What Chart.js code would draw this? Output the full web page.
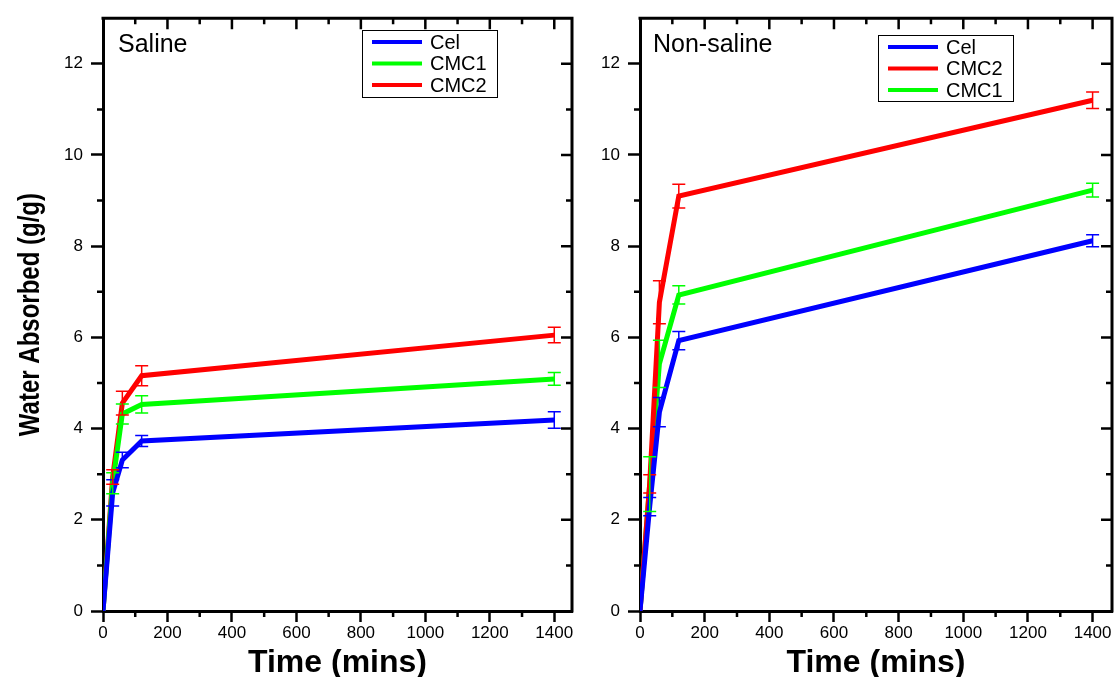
<!DOCTYPE html>
<html>
<head>
<meta charset="utf-8">
<script src="https://cdn.jsdelivr.net/npm/chart.js@4.4.0/dist/chart.umd.min.js"></script>
<style>
  html, body { margin: 0; padding: 0; background: #fff; }
  #wrap { position: relative; width: 1120px; height: 677px; overflow: hidden; }
  .panel { position: absolute; top: 0; }
</style>
</head>
<body>
<div id="wrap">
  <canvas id="saline" class="panel" style="left:0" width="580" height="677"></canvas>
  <canvas id="nonsaline" class="panel" style="left:580px" width="540" height="677"></canvas>
</div>
<script>
// sampling times (mins) and axis ticks
const TIMES = [0, 30, 60, 120, 1400];
const X_TICKS = [0, 200, 400, 600, 800, 1000, 1200, 1400];
const Y_TICKS = [0, 2, 4, 6, 8, 10, 12];

// Saline
const SAL_CEL = [0, 2.59, 3.31, 3.73, 4.19];
const SAL_CEL_ERR = [0, 0.29, 0.17, 0.12, 0.18];
const SAL_CMC1 = [0, 2.80, 4.32, 4.53, 5.09];
const SAL_CMC1_ERR = [0, 0.23, 0.22, 0.19, 0.14];
const SAL_CMC2 = [0, 2.94, 4.56, 5.16, 6.05];
const SAL_CMC2_ERR = [0, 0.16, 0.26, 0.22, 0.17];

// Non-saline
const NS_CEL = [0, 2.29, 4.36, 5.93, 8.12];
const NS_CEL_ERR = [0, 0.20, 0.32, 0.20, 0.13];
const NS_CMC2 = [0, 2.79, 6.77, 9.10, 11.20];
const NS_CMC2_ERR = [0, 0.20, 0.47, 0.26, 0.18];
const NS_CMC1 = [0, 2.78, 5.42, 6.93, 9.23];
const NS_CMC1_ERR = [0, 0.60, 0.52, 0.20, 0.15];

const BLUE = "#0000ff", GREEN = "#00ff00", RED = "#ff0000";
const FONT = "'Liberation Sans', Arial, sans-serif";

// error bars, mirrored frame, minor ticks, boxed legend, labels
const decor = {
  id: "decor",
  afterDatasetsDraw(chart) {
    const { ctx, scales: { x, y } } = chart;
    ctx.save();
    ctx.lineWidth = 1.5;
    chart.data.datasets.forEach((ds) => {
      ctx.strokeStyle = ds.borderColor;
      ds.data.forEach((p, i) => {
        const e = ds.err[i];
        if (!e) return;
        const px = x.getPixelForValue(p.x);
        const top = y.getPixelForValue(p.y + e), bot = y.getPixelForValue(p.y - e);
        ctx.beginPath();
        ctx.moveTo(px, top); ctx.lineTo(px, bot);
        ctx.moveTo(px - 6.5, top); ctx.lineTo(px + 6.5, top);
        ctx.moveTo(px - 6.5, bot); ctx.lineTo(px + 6.5, bot);
        ctx.stroke();
      });
    });
    ctx.restore();
  },
  afterDraw(chart, args, o) {
    const { ctx, chartArea: a, scales: { x, y } } = chart;
    ctx.save();
    ctx.strokeStyle = "#000";
    // top + right frame
    ctx.lineWidth = 3;
    ctx.beginPath();
    ctx.moveTo(a.left - 1.5, a.top); ctx.lineTo(a.right, a.top); ctx.lineTo(a.right, a.bottom + 1.5);
    ctx.stroke();
    ctx.lineWidth = 2.5;
    ctx.beginPath();
    for (let v = 100; v < x.max; v += 100) {
      const px = x.getPixelForValue(v);
      const major = v % 200 === 0;
      const len = major ? 11 : 6;
      ctx.moveTo(px, a.top); ctx.lineTo(px, a.top + len);
      if (!major) { ctx.moveTo(px, a.bottom); ctx.lineTo(px, a.bottom + len); }
    }
    for (let v = 1; v < y.max; v += 1) {
      const py = y.getPixelForValue(v);
      const major = v % 2 === 0;
      const len = major ? 11 : 6;
      ctx.moveTo(a.right, py); ctx.lineTo(a.right - len, py);
      if (!major) { ctx.moveTo(a.left, py); ctx.lineTo(a.left - len, py); }
    }
    ctx.stroke();

    // legend box
    const L = o.legend;
    ctx.lineWidth = 1;
    ctx.strokeRect(L.x + 0.5, L.y + 0.5, L.w, L.h);
    ctx.font = `20px ${FONT}`;
    ctx.textBaseline = "middle";
    ctx.fillStyle = "#000";
    chart.data.datasets.forEach((ds, i) => {
      const ry = L.y + 12 + i * 21.5;
      ctx.strokeStyle = ds.borderColor;
      ctx.lineWidth = 4;
      ctx.beginPath();
      ctx.moveTo(L.x + 10, ry); ctx.lineTo(L.x + 60, ry);
      ctx.stroke();
      ctx.fillText(ds.label, L.x + 68, ry + 1);
    });

    // panel label
    ctx.font = `25px ${FONT}`;
    ctx.fillText(o.tag, a.left + o.tagDx, 45);

    // condensed bold y title
    if (o.yTitle) {
      ctx.translate(30, (a.top + a.bottom) / 2);
      ctx.rotate(-Math.PI / 2);
      ctx.scale(0.8, 1);
      ctx.textAlign = "center";
      ctx.font = `bold 30px ${FONT}`;
      ctx.fillText(o.yTitle, 0, 1);
    }
    ctx.restore();
  },
};

function makePanel(id, cfg) {
  const tickFont = { family: FONT, size: 17 };
  return new Chart(document.getElementById(id), {
    type: "line",
    data: {
      datasets: cfg.series.map((s) => ({
        label: s.label,
        data: TIMES.map((t, i) => ({ x: t, y: s.values[i] })),
        err: s.err,
        borderColor: s.color,
        backgroundColor: s.color,
        borderWidth: 5,
        pointRadius: 0,
        tension: 0,
        fill: false,
      })),
    },
    options: {
      responsive: false,
      animation: false,
      layout: { padding: { top: 12, right: cfg.padRight, left: 0, bottom: 0 } },
      plugins: {
        legend: { display: false },
        tooltip: { enabled: false },
        decor: { legend: cfg.legend, tag: cfg.tag, tagDx: cfg.tagDx, yTitle: cfg.yTitle },
      },
      scales: {
        x: {
          type: "linear",
          min: 0,
          max: cfg.xMax,
          afterFit: (s) => { s.height = 66; },
          afterBuildTicks: (s) => { s.ticks = X_TICKS.map((v) => ({ value: v })); },
          ticks: { color: "#000", font: tickFont, padding: 1, maxRotation: 0, autoSkip: false, callback: (v) => String(v) },
          grid: { drawOnChartArea: false, color: "#000", tickLength: 11, tickWidth: 2.5 },
          border: { color: "#000", width: 3 },
          title: {
            display: true,
            text: "Time (mins)",
            color: "#000",
            font: { family: FONT, size: 32, weight: "bold", lineHeight: 0.85 },
            padding: { top: 0, bottom: 0 },
          },
        },
        y: {
          min: 0,
          max: 13,
          afterFit: (s) => { s.width = cfg.yWidth; },
          afterBuildTicks: (s) => { s.ticks = Y_TICKS.map((v) => ({ value: v })); },
          ticks: { color: "#000", font: tickFont, padding: 8, callback: (v) => String(v) },
          grid: { drawOnChartArea: false, color: "#000", tickLength: 12, tickWidth: 2.5 },
          border: { color: "#000", width: 3 },
        },
      },
    },
    plugins: [decor],
  });
}

makePanel("saline", {
  tag: "Saline",
  tagDx: 15,
  yTitle: "Water Absorbed (g/g)",
  yWidth: 103,
  padRight: 8,
  xMax: 1455,
  legend: { x: 362, y: 30, w: 135, h: 67 },
  series: [
    { label: "Cel", color: BLUE, values: SAL_CEL, err: SAL_CEL_ERR },
    { label: "CMC1", color: GREEN, values: SAL_CMC1, err: SAL_CMC1_ERR },
    { label: "CMC2", color: RED, values: SAL_CMC2, err: SAL_CMC2_ERR },
  ],
});

makePanel("nonsaline", {
  tag: "Non-saline",
  tagDx: 13,
  yTitle: "",
  yWidth: 60,
  padRight: 8,
  xMax: 1460,
  legend: { x: 298, y: 35, w: 135, h: 66 },
  series: [
    { label: "Cel", color: BLUE, values: NS_CEL, err: NS_CEL_ERR },
    { label: "CMC2", color: RED, values: NS_CMC2, err: NS_CMC2_ERR },
    { label: "CMC1", color: GREEN, values: NS_CMC1, err: NS_CMC1_ERR },
  ],
});
</script>
</body>
</html>
